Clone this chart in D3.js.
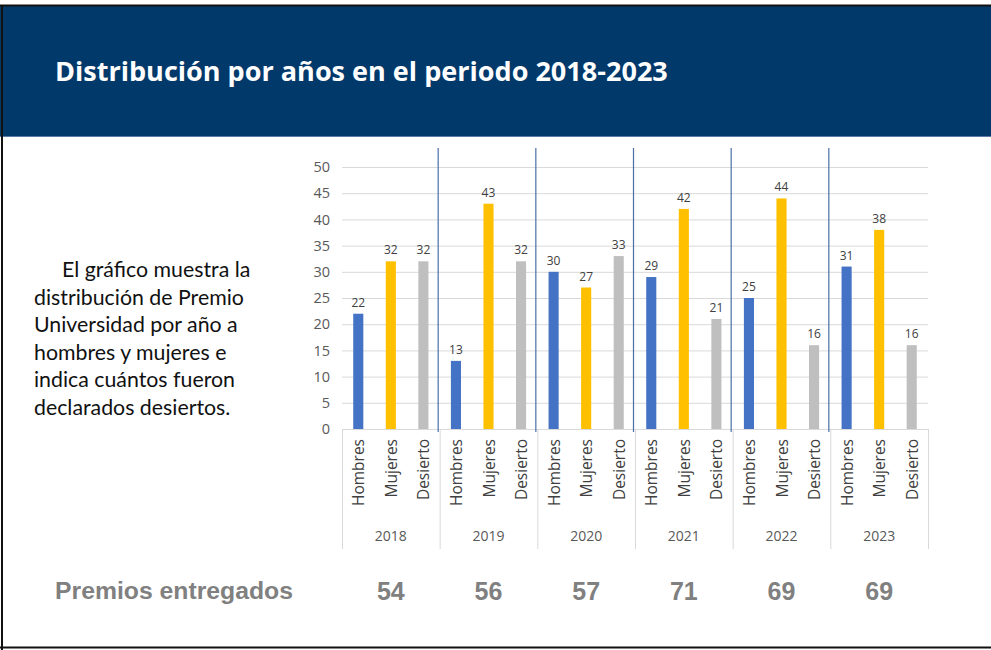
<!DOCTYPE html>
<html>
<head>
<meta charset="utf-8">
<script src="https://cdn.jsdelivr.net/npm/d3@7"></script>
<style>
  html, body { margin: 0; padding: 0; background: #ffffff; }
  svg { display: block; }
</style>
</head>
<body>
<script>
// ---------- DATA ----------
const years = ["2018", "2019", "2020", "2021", "2022", "2023"];
const seriesNames = ["Hombres", "Mujeres", "Desierto"];
const hombres = [22, 13, 30, 29, 25, 31];
const mujeres = [32, 43, 27, 42, 44, 38];
const desierto = [32, 32, 33, 21, 16, 16];
const premios = [54, 56, 57, 71, 69, 69];
const yTicks = [0, 5, 10, 15, 20, 25, 30, 35, 40, 45, 50];
const titleText = "Distribución por años en el periodo 2018-2023";
const paragraph = [
  "El gráfico muestra la",
  "distribución de Premio",
  "Universidad por año a",
  "hombres y mujeres e",
  "indica cuántos fueron",
  "declarados desiertos."
];
const footerLabel = "Premios entregados";

// ---------- LAYOUT ----------
const W = 991, H = 650;
const colors = { Hombres: "#4472C4", Mujeres: "#FFC000", Desierto: "#BFBFBF" };
const seriesValues = { Hombres: hombres, Mujeres: mujeres, Desierto: desierto };

const svg = d3.select("body").append("svg").attr("width", W).attr("height", H);
svg.append("rect").attr("width", W).attr("height", H).attr("fill", "#ffffff");

// header
svg.append("rect").attr("x", 0).attr("y", 6).attr("width", W).attr("height", 130).attr("fill", "#02396b");
svg.append("line").attr("x1", 0).attr("x2", W).attr("y1", 136.5).attr("y2", 136.5)
  .attr("stroke", "#5b7aa6").attr("stroke-width", 1);
// frame
svg.append("line").attr("x1", 0).attr("x2", W).attr("y1", 5.5).attr("y2", 5.5).attr("stroke", "#111").attr("stroke-width", 2);
svg.append("line").attr("x1", 2).attr("x2", 2).attr("y1", 5).attr("y2", H).attr("stroke", "#111").attr("stroke-width", 2);
svg.append("line").attr("x1", 0).attr("x2", W).attr("y1", 647.5).attr("y2", 647.5).attr("stroke", "#111").attr("stroke-width", 2);

function fitText(sel, target, size) {
  const w = sel.node().getComputedTextLength();
  const ns = size * target / w;
  sel.attr("font-size", ns);
  return ns;
}

const title = svg.append("text").attr("x", 55).attr("y", 81)
  .attr("fill", "#ffffff").attr("font-family", "'Open Sans', sans-serif")
  .attr("font-weight", 700).attr("font-size", 25).text(titleText);
fitText(title, 613, 25);

// paragraph
const para = svg.append("g").attr("font-family", "Lato, 'Open Sans', sans-serif").attr("fill", "#111111");
const pLines = para.selectAll("text").data(paragraph).join("text")
  .attr("x", (d, i) => i === 0 ? 62 : 34)
  .attr("y", (d, i) => 277 + i * 27.5)
  .attr("font-size", 19)
  .text(d => d);
{
  const ref = pLines.filter((d, i) => i === 1);
  const ns = fitText(ref, 210, 19);
  pLines.attr("font-size", ns);
}

// ---------- CHART ----------
const x0 = d3.scaleBand().domain(years).range([342, 928]).paddingInner(0).paddingOuter(0);
const x1 = d3.scaleBand().domain(seriesNames).range([0, x0.bandwidth()]).paddingInner(0.69).paddingOuter(0.345);
const y = d3.scaleLinear().domain([0, 50]).range([429, 167]);

// gridlines
const grid = svg.append("g").attr("transform", "translate(342,0)")
  .call(d3.axisLeft(y).tickValues(yTicks).tickSize(-(928 - 342)).tickFormat(""));
grid.select(".domain").remove();
grid.selectAll(".tick line").attr("stroke", "#d9d9d9").attr("stroke-width", 1);

// y tick labels
const yax = svg.append("g").attr("transform", "translate(342,0)")
  .call(d3.axisLeft(y).tickValues(yTicks).tickSize(0).tickPadding(12));
yax.select(".domain").remove();
yax.selectAll("text").attr("font-family", "'Open Sans', sans-serif").attr("font-size", 14.5)
  .attr("fill", "#595959");

// category axis boundary lines
const bounds = years.map(yr => x0(yr)).concat([x0.range()[1]]);
svg.append("g").selectAll("line").data(bounds).join("line")
  .attr("x1", d => d + 0.5).attr("x2", d => d + 0.5)
  .attr("y1", y(0)).attr("y2", 549)
  .attr("stroke", "#d9d9d9").attr("stroke-width", 1);

// bars
const groups = svg.append("g").selectAll("g").data(years).join("g")
  .attr("transform", d => `translate(${x0(d)},0)`);
groups.selectAll("rect").data((yr, i) => seriesNames.map(s => ({ s, v: seriesValues[s][i] })))
  .join("rect")
  .attr("x", d => x1(d.s)).attr("width", x1.bandwidth())
  .attr("y", d => y(d.v)).attr("height", d => y(0) - y(d.v))
  .attr("fill", d => colors[d.s]);
groups.selectAll("text.val").data((yr, i) => seriesNames.map(s => ({ s, v: seriesValues[s][i] })))
  .join("text").attr("class", "val")
  .attr("x", d => x1(d.s) + x1.bandwidth() / 2).attr("y", d => y(d.v) - 7)
  .attr("text-anchor", "middle").attr("font-family", "'Open Sans', sans-serif")
  .attr("font-size", 12).attr("fill", "#404040").text(d => d.v);

// sub-category labels (rotated)
const cats = groups.selectAll("text.cat").data(seriesNames).join("text").attr("class", "cat")
  .attr("transform", d => `translate(${x1(d) + x1.bandwidth() / 2},439) rotate(-90)`)
  .attr("text-anchor", "end").attr("dominant-baseline", "central")
  .attr("font-family", "'Open Sans', sans-serif").attr("font-size", 14)
  .attr("fill", "#404040").text(d => d);
{
  const ref = cats.filter(d => d === "Hombres").filter((d, i) => i === 0);
  const ns = fitText(d3.select(ref.node()), 67, 14);
  cats.attr("font-size", ns);
}

// year labels
groups.append("text")
  .attr("x", x0.bandwidth() / 2).attr("y", 541)
  .attr("text-anchor", "middle").attr("font-family", "'Open Sans', sans-serif")
  .attr("font-size", 14).attr("fill", "#595959").text(d => d);

// dark separators between years
svg.append("g").selectAll("line").data(years.slice(1)).join("line")
  .attr("x1", d => x0(d) - 1.5).attr("x2", d => x0(d) - 1.5)
  .attr("y1", 148).attr("y2", 432)
  .attr("stroke", "#4a6ea8").attr("stroke-width", 1.2);

// footer
const fl = svg.append("text").attr("x", 55).attr("y", 599)
  .attr("font-family", "'Liberation Sans', Arial, sans-serif").attr("font-weight", "bold")
  .attr("font-size", 23).attr("fill", "#808080").text(footerLabel);
fitText(fl, 238, 23);
svg.append("g").selectAll("text").data(premios).join("text")
  .attr("x", (d, i) => x0(years[i]) + x0.bandwidth() / 2)
  .attr("y", 600).attr("text-anchor", "middle")
  .attr("font-family", "'Liberation Sans', Arial, sans-serif").attr("font-weight", "bold")
  .attr("font-size", 25).attr("fill", "#808080").text(d => d);
</script>
</body>
</html>
